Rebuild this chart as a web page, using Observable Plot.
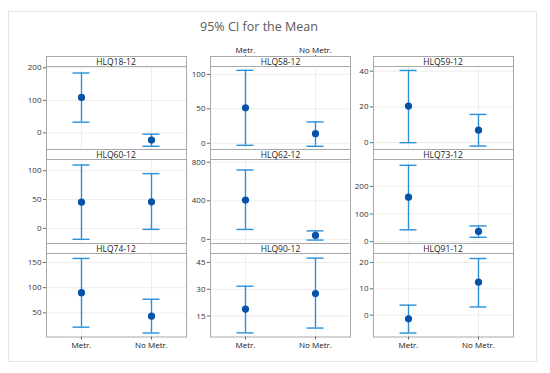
<!DOCTYPE html>
<html>
<head>
<meta charset="utf-8">
<script src="https://cdn.jsdelivr.net/npm/d3@7"></script>
<script src="https://cdn.jsdelivr.net/npm/@observablehq/plot@0.6"></script>
<style>
  body { margin: 0; background: #fff; font-family: "Open Sans", "Noto Sans", sans-serif; }
  #chart { position: relative; width: 550px; height: 373px; overflow: hidden; }
  .outer { position: absolute; left: 8px; top: 11px; width: 529px; height: 351px; box-sizing: border-box; border: 1px solid #e4e4e4; }
  .title { position: absolute; left: 0; width: 518px; top: 18px; text-align: center; font-size: 12.5px; color: #5a5a5a; }
  .strip { position: absolute; box-sizing: border-box; border: 1px solid #a8a8a8; background: #fff; font-size: 8.5px; color: #222; display: flex; align-items: center; justify-content: center; line-height: 1; padding-top: 1px; }
  .panel { position: absolute; }
</style>
</head>
<body>
<div id="chart">
  <div class="outer"></div>
  <div class="title">95% CI for the Mean</div>
</div>
<script>
// ---- data ----
const panels = ["HLQ18-12", "HLQ58-12", "HLQ59-12", "HLQ60-12", "HLQ62-12", "HLQ73-12", "HLQ74-12", "HLQ90-12", "HLQ91-12"];
const groups = ["Metr.", "No Metr."];
const lower = [[33, -41], [-3, -4.4], [0, -1.9], [-19, -1.7], [103, -7], [43, 16], [21.6, 10], [5.6, 8.3], [-6.8, 3.1]];
const means = [[109, -22], [51.5, 14], [20.5, 7], [45.5, 46], [407, 41], [161, 37], [90, 43.5], [18.9, 27.6], [-1.4, 12.5]];
const upper = [[184, -4], [106, 31], [40.4, 15.8], [110, 95], [719, 88], [276, 57], [158, 77], [31.7, 47.4], [3.8, 21.5]];
const yTicks = [[0, 100, 200], [0, 50, 100], [0, 20, 40], [0, 50, 100], [0, 400, 800], [0, 100, 200], [50, 100, 150], [15, 30, 45], [0, 10, 20]];
const yDomains = [[-52.5, 204], [-9.8, 111.6], [-4.1, 42.6], [-27.1, 119.5], [-48, 828], [-8.3, 297], [2.1, 167.8], [3.3, 50], [-8.3, 23.4]];

// ---- layout ----
const colLeft = [45.5, 210, 372.5];
const panelW = 140;
const stripTop = [56, 149, 243];
const stripH = 9.5;
const plotBottom = [149, 243, 336];
const mL = 32, mR = 2, mT = 26, mB = 16;
const barColor = "#2a8fd8";
const dotColor = "#0553a8";
const gridColor = "#ededed";
const chart = document.getElementById("chart");

panels.forEach((name, i) => {
  const r = Math.floor(i / 3), c = i % 3;
  const plotTop = stripTop[r] + stripH;
  const plotH = plotBottom[r] - plotTop;
  const data = groups.map((g, k) => ({group: g, lo: lower[i][k], mean: means[i][k], hi: upper[i][k]}));
  const capInset = (panelW / 2 - 17) / 2;

  const marks = [
    Plot.gridY(yTicks[i], {stroke: gridColor, strokeOpacity: 1}),
    Plot.gridX({stroke: gridColor, strokeOpacity: 1}),
    Plot.frame({stroke: "#a8a8a8"}),
    Plot.axisY(yTicks[i], {tickSize: 3, tickPadding: 2, fontSize: 8, fill: "#333", stroke: "#666", label: null}),
    Plot.ruleX(data, {x: "group", y1: "lo", y2: "hi", stroke: barColor, strokeWidth: 1.4}),
    Plot.tickY(data, {x: "group", y: "lo", stroke: barColor, strokeWidth: 1.4, insetLeft: capInset, insetRight: capInset}),
    Plot.tickY(data, {x: "group", y: "hi", stroke: barColor, strokeWidth: 1.4, insetLeft: capInset, insetRight: capInset}),
    Plot.dot(data, {x: "group", y: "mean", r: 3.6, fill: dotColor, stroke: "none"})
  ];
  if (r === 2) {
    marks.push(Plot.axisX({anchor: "bottom", tickSize: 3, tickPadding: 2, fontSize: 8, fill: "#111", stroke: "#666", label: null}));
  } else if (r === 0 && c === 1) {
    marks.push(Plot.axisX({anchor: "top", tickSize: 12, tickPadding: 1.5, fontSize: 8, fill: "#111", stroke: "#666", label: null}));
  }

  const svg = Plot.plot({
    width: mL + panelW + mR,
    height: mT + plotH + mB,
    marginLeft: mL, marginRight: mR, marginTop: mT, marginBottom: mB,
    style: {background: "transparent", overflow: "visible", fontFamily: "'Open Sans', 'Noto Sans', sans-serif"},
    x: {type: "band", domain: groups, padding: 0, axis: null},
    y: {domain: yDomains[i], axis: null},
    marks
  });
  const wrap = document.createElement("div");
  wrap.className = "panel";
  wrap.style.left = (colLeft[c] - mL) + "px";
  wrap.style.top = (plotTop - mT) + "px";
  wrap.appendChild(svg);
  chart.appendChild(wrap);
});

// strips on top
panels.forEach((name, i) => {
  const r = Math.floor(i / 3), c = i % 3;
  const s = document.createElement("div");
  s.className = "strip";
  s.style.left = colLeft[c] + "px";
  s.style.top = stripTop[r] + "px";
  s.style.width = (panelW + 1) + "px";
  s.style.height = (stripH + 1) + "px";
  s.textContent = name;
  chart.appendChild(s);
});
</script>
</body>
</html>
